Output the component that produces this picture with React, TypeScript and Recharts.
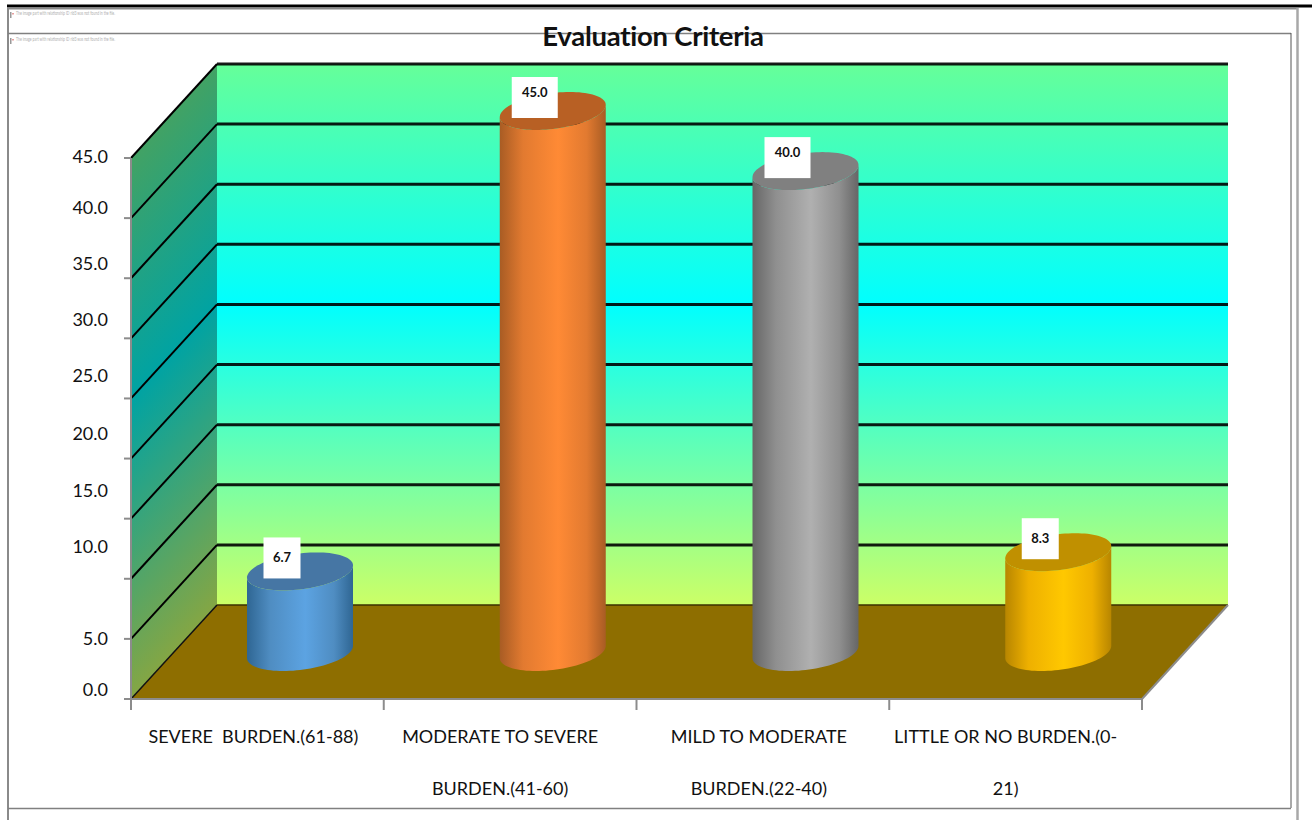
import React from 'react'
import { BarChart, Bar, XAxis, YAxis, LabelList, usePlotArea } from 'recharts'

const categories = [
  'SEVERE  BURDEN.(61-88)',
  'MODERATE TO SEVERE\nBURDEN.(41-60)',
  'MILD TO MODERATE\nBURDEN.(22-40)',
  'LITTLE OR NO BURDEN.(0-\n21)',
]
const values = [6.7, 45.0, 40.0, 8.3]
const yTicks = [0, 5, 10, 15, 20, 25, 30, 35, 40, 45]
const titleText = 'Evaluation Criteria'
const brokenImageText = 'The image part with relationship ID rId3 was not found in the file.'

const chartData = categories.map((category, i) => ({ category, value: values[i] }))

// the axis text sits a little off its tick in this layout
const yLabelNudge: Record<number, number> = {
  0: -9, 5: 0, 10: -32, 15: -28, 20: -25, 25: -22, 30: -18, 35: -14, 40: -10, 45: -1,
}
const xLabelNudge = [-4, -10, -4, -10]

const FONT = 'Lato, sans-serif'
const DEPTH_X = 86
const DEPTH_Y = 94
const AXIS_GRAY = '#8c8c8c'

const cylinderColors = [
  { edge: '#2f6693', shade: '#4f8dc2', mid: '#5ca3e2', cap: '#4676a4' },
  { edge: '#a85c24', shade: '#e27a30', mid: '#ff8a35', cap: '#b86024' },
  { edge: '#666666', shade: '#8f8f8f', mid: '#b0b0b0', cap: '#808080' },
  { edge: '#b88600', shade: '#eeb000', mid: '#ffc800', cap: '#c09000' },
]

function PageFrame() {
  return (
    <g>
      <line x1={7} x2={1312} y1={6} y2={6} stroke="#000" strokeWidth={3} />
      <line x1={7} x2={1298} y1={8.5} y2={8.5} stroke="#8a8a8a" strokeWidth={2} />
      <line x1={8} x2={8} y1={8} y2={820} stroke="#8a8a8a" strokeWidth={2} />
      <line x1={1297.5} x2={1297.5} y1={8} y2={820} stroke="#a8a8a8" strokeWidth={2.5} />
      <line x1={8} x2={1291} y1={33.5} y2={33.5} stroke="#808080" strokeWidth={1.5} />
      <line x1={1291} x2={1291} y1={33} y2={808} stroke="#555" strokeWidth={1} />
      <line x1={8} x2={1291} y1={808.5} y2={808.5} stroke="#808080" strokeWidth={1.5} />
      {[13, 39].map((y) => (
        <g key={y}>
          <rect x={10} y={y - 1} width={1.5} height={6} fill="#999" />
          <rect x={12.5} y={y} width={1} height={1.5} fill="#d04040" />
          <text x={16} y={y + 2} fontSize={5} fill="#b0b0b0" fontFamily={FONT} textLength={99} lengthAdjust="spacingAndGlyphs">
            {brokenImageText}
          </text>
        </g>
      ))}
      <text x={653} y={46} textAnchor="middle" fontSize={27.5} fontWeight={700} fill="#111" fontFamily={FONT} letterSpacing={-0.25}>
        {titleText}
      </text>
    </g>
  )
}

// back wall, side wall, floor and the gridlines running across them
function Walls() {
  const plot = usePlotArea()
  if (!plot) return null
  const left = plot.x
  const right = plot.x + plot.width
  const top = plot.y
  const bottom = plot.y + plot.height
  const domainMax = yTicks[yTicks.length - 1]
  const yOf = (v: number) => bottom - (v / domainMax) * plot.height
  const bandWidth = plot.width / categories.length

  // side wall bands follow the slant of the wall, so the gradient runs across it
  const normLen = Math.hypot(DEPTH_X, DEPTH_Y)
  const span = (plot.height * DEPTH_X) / normLen
  const sideX1 = left + DEPTH_X / 2
  const sideY1 = top - DEPTH_Y / 2
  const sideX2 = sideX1 + (DEPTH_Y / normLen) * span
  const sideY2 = sideY1 + (DEPTH_X / normLen) * span

  return (
    <g>
      <defs>
        <linearGradient id="backWall" x1="0" y1="0" x2="0" y2="1">
          <stop offset="0" stopColor="#66ff99" />
          <stop offset="0.444" stopColor="#00ffff" />
          <stop offset="1" stopColor="#ccff66" />
        </linearGradient>
        <linearGradient id="sideWall" gradientUnits="userSpaceOnUse" x1={sideX1} y1={sideY1} x2={sideX2} y2={sideY2}>
          <stop offset="0" stopColor="#42a264" />
          <stop offset="0.444" stopColor="#00a3a3" />
          <stop offset="1" stopColor="#84a644" />
        </linearGradient>
      </defs>
      <rect x={left + DEPTH_X} y={top - DEPTH_Y} width={plot.width} height={plot.height} fill="url(#backWall)" />
      <polygon
        points={`${left},${top} ${left + DEPTH_X},${top - DEPTH_Y} ${left + DEPTH_X},${bottom - DEPTH_Y} ${left},${bottom}`}
        fill="url(#sideWall)"
      />
      <polygon
        points={`${left},${bottom} ${right},${bottom} ${right + DEPTH_X},${bottom - DEPTH_Y} ${left + DEPTH_X},${bottom - DEPTH_Y}`}
        fill="#8e6e00"
      />
      {yTicks.filter((t) => t > 0).map((t) => (
        <g key={t}>
          <line x1={left} y1={yOf(t)} x2={left + DEPTH_X} y2={yOf(t) - DEPTH_Y} stroke="#000" strokeWidth={2} />
          <line x1={left + DEPTH_X} y1={yOf(t) - DEPTH_Y} x2={right + DEPTH_X} y2={yOf(t) - DEPTH_Y} stroke="#000" strokeWidth={3} strokeOpacity={0.9} />
        </g>
      ))}
      <line x1={left} y1={bottom} x2={left + DEPTH_X} y2={bottom - DEPTH_Y} stroke="#111" strokeWidth={1.5} />
      <line x1={left + DEPTH_X} y1={bottom - DEPTH_Y} x2={right + DEPTH_X} y2={bottom - DEPTH_Y} stroke="#3a3000" strokeWidth={1.5} />
      <line x1={right} y1={bottom} x2={right + DEPTH_X} y2={bottom - DEPTH_Y} stroke={AXIS_GRAY} strokeWidth={2} />
      {categories.map((_, i) => i).concat(categories.length).map((i) => (
        <line key={i} x1={left + i * bandWidth} x2={left + i * bandWidth} y1={bottom} y2={bottom + 11} stroke={AXIS_GRAY} strokeWidth={2} />
      ))}
    </g>
  )
}

function ellipsePoint(cx: number, cy: number, rx: number, skew: number, ry: number, t: number) {
  return `${(cx + rx * Math.cos(t) + skew * Math.sin(t)).toFixed(2)},${(cy - ry * Math.sin(t)).toFixed(2)}`
}

// cylinder standing on the floor, halfway back in the chart depth
function Cylinder(props: any) {
  const { x, y, width, height, index } = props
  const colors = cylinderColors[index]
  const cx = x + width / 2 + DEPTH_X / 2
  const topY = y - DEPTH_Y / 2
  const baseY = y + height - DEPTH_Y / 2
  const half = width / 2
  const skew = half * 0.32
  const rx = Math.sqrt(half * half - skew * skew)
  const ry = 19
  const t0 = Math.atan2(skew, rx)
  const steps = 48
  const lower = Array.from({ length: steps + 1 }, (_, k) => t0 + Math.PI + (Math.PI * k) / steps)
  const bottomArc = lower.map((t) => ellipsePoint(cx, baseY, rx, skew, ry, t))
  const topArc = [...lower].reverse().map((t) => ellipsePoint(cx, topY, rx, skew, ry, t))
  const capPoints = Array.from({ length: steps * 2 }, (_, k) => ellipsePoint(cx, topY, rx, skew, ry, (Math.PI * k) / steps))
  const gradId = `cyl-${index}`
  return (
    <g>
      <defs>
        <linearGradient id={gradId} x1="0" y1="0" x2="1" y2="0">
          <stop offset="0" stopColor={colors.edge} />
          <stop offset="0.22" stopColor={colors.shade} />
          <stop offset="0.55" stopColor={colors.mid} />
          <stop offset="0.82" stopColor={colors.shade} />
          <stop offset="1" stopColor={colors.edge} />
        </linearGradient>
      </defs>
      <polygon points={[...bottomArc, ...topArc].join(' ')} fill={`url(#${gradId})`} />
      <polygon points={capPoints.join(' ')} fill={colors.cap} />
    </g>
  )
}

function ValueTag(props: any) {
  const { x, y, width, value } = props
  const text = Number(value).toFixed(1)
  const wide = text.length > 3
  const boxW = wide ? 46 : 37
  const cx = x + width / 2 + DEPTH_X / 2
  const topY = y - DEPTH_Y / 2
  const boxCx = cx - 18
  return (
    <g>
      <rect x={boxCx - boxW / 2} y={topY - 34} width={boxW} height={41} fill="#fff" />
      <text x={boxCx} y={topY + (wide ? -14 : -9)} textAnchor="middle" fontSize={13} fontWeight={700} fill="#111" fontFamily={FONT}>
        {text}
      </text>
    </g>
  )
}

function YTick(props: any) {
  const { x, y, payload } = props
  return (
    <text x={x} y={y + 6 + yLabelNudge[payload.value]} textAnchor="end" fontSize={18} fill="#111" fontFamily={FONT}>
      {payload.value.toFixed(1)}
    </text>
  )
}

function XTick(props: any) {
  const { x, payload, index } = props
  const bottom = 699
  const lines = String(payload.value).split('\n')
  return (
    <g>
      {lines.map((line, i) => (
        <text key={i} x={x + xLabelNudge[index]} y={bottom + 44 + i * 52} textAnchor="middle" fontSize={18} fill="#111" fontFamily={FONT} style={{ whiteSpace: 'pre' }}>
          {line}
        </text>
      ))}
    </g>
  )
}

export default function App() {
  return (
    <div style={{ position: 'absolute', left: 0, top: 0, width: 1312, height: 820, background: '#fff' }}>
      <BarChart
        width={1312}
        height={820}
        data={chartData}
        margin={{ top: 158, right: 170, bottom: 11, left: 31 }}
      >
        <PageFrame />
        <Walls />
        <XAxis
          dataKey="category"
          height={110}
          interval={0}
          tick={<XTick />}
          tickLine={false}
          axisLine={{ stroke: AXIS_GRAY, strokeWidth: 2 }}
        />
        <YAxis
          width={100}
          domain={[0, 45]}
          ticks={yTicks}
          tick={<YTick />}
          tickSize={7}
          tickMargin={16}
          tickLine={{ stroke: AXIS_GRAY, strokeWidth: 2 }}
          axisLine={{ stroke: AXIS_GRAY, strokeWidth: 2 }}
        />
        <Bar dataKey="value" barSize={106} shape={<Cylinder />} isAnimationActive={false}>
          <LabelList dataKey="value" content={<ValueTag />} />
        </Bar>
      </BarChart>
    </div>
  )
}
